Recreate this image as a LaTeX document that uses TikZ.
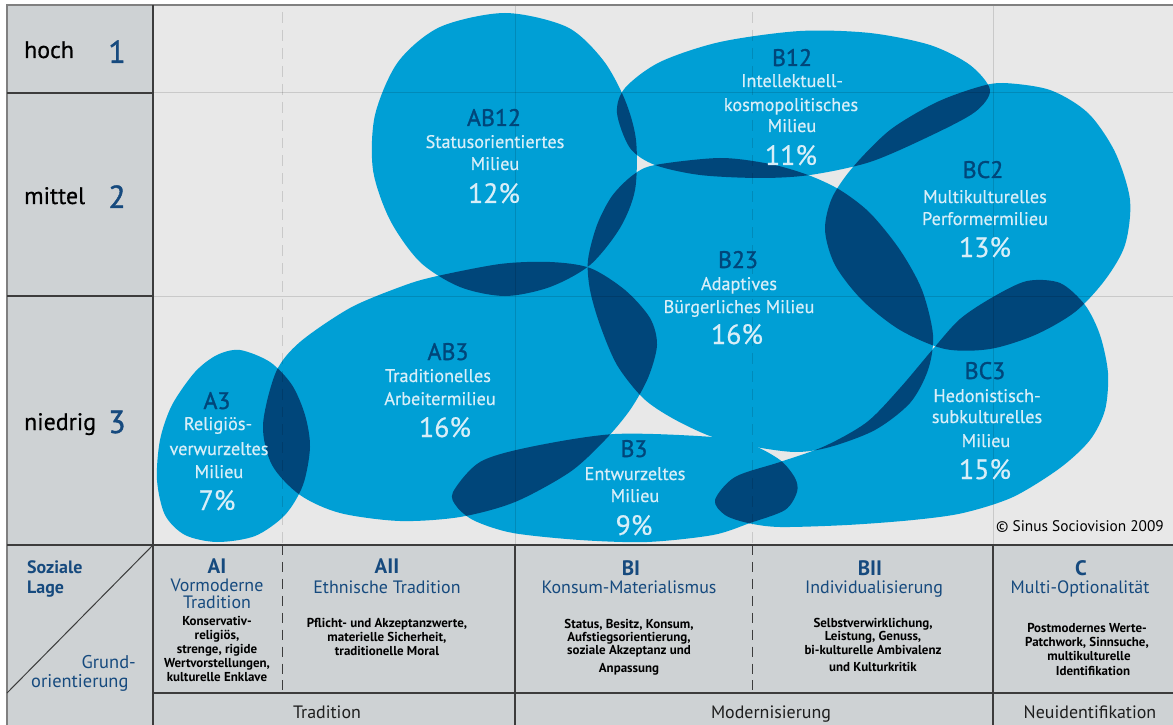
\documentclass[tikz,border=0pt]{standalone}
\usepackage{fontspec}
\setmainfont{PT Sans}
\newfontfamily\medfont[FakeBold=1.2]{PT Sans}
\newfontfamily\semifont[FakeBold=0.5]{PT Sans}
\definecolor{bgchart}{HTML}{E8E8E8}
\definecolor{bgpanel}{HTML}{CED2D4}
\definecolor{blobL}{HTML}{009FD5}
\definecolor{blobD}{HTML}{00467A}
\definecolor{txtL}{HTML}{D8EEF8}
\definecolor{navy}{HTML}{164A7E}
\definecolor{lineD}{HTML}{3C3C3C}
\definecolor{txtD}{HTML}{1E1E1E}
\def\blobAthree{plot[smooth cycle] coordinates {(240,350) (270,362) (292,385) (305,415) (310,447) (303,485) (285,515) (255,536) (217,542) (185,535) (165,515) (157,480) (160,440) (172,405) (195,372) (217,355)}}
\def\blobABthree{plot[smooth cycle] coordinates {(433,277) (500,264) (550,262) (590,268) (625,290) (650,318) (657,345) (648,378) (630,410) (605,440) (570,472) (515,502) (460,517) (400,521) (340,513) (300,495) (272,465) (263,425) (276,372) (300,342) (350,308) (400,287)}}
\def\blobABtwelve{plot[smooth cycle] coordinates {(505,13) (567,27) (603,60) (625,100) (636,140) (635,190) (620,228) (590,265) (550,287) (505,296) (460,287) (420,262) (390,220) (373,170) (375,115) (398,62) (440,27)}}
\def\blobBtwelve{plot[smooth cycle] coordinates {(617,113) (625,88) (660,62) (720,42) (800,31) (870,33) (930,45) (970,65) (990,90) (975,112) (930,136) (870,162) (810,175) (760,178) (700,175) (655,165) (630,148)}}
\def\blobBCtwo{plot[smooth cycle] coordinates {(1003,83) (1050,90) (1088,113) (1115,152) (1130,200) (1125,245) (1105,280) (1075,312) (1035,335) (990,349) (945,349) (900,330) (862,300) (835,265) (825,230) (832,198) (853,167) (890,130) (935,103) (975,88)}}
\def\blobBCthree{plot[smooth cycle] coordinates {(715,500) (735,477) (780,462) (825,446) (867,422) (900,388) (933,349) (960,319) (993,297) (1027,281) (1060,283) (1085,305) (1100,335) (1108,373) (1105,410) (1090,440) (1060,468) (1013,497) (963,513) (913,520) (847,525) (780,527) (748,523) (725,515)}}
\def\blobBtwothree{plot[smooth cycle] coordinates {(655,165) (720,158) (770,164) (808,175) (840,190) (870,213) (900,250) (922,290) (933,335) (928,370) (910,403) (875,430) (830,447) (795,452) (750,446) (710,436) (672,418) (643,398) (617,365) (600,325) (590,290) (588,260) (597,225) (612,196) (633,175)}}
\def\blobBthree{plot[smooth cycle] coordinates {(453,492) (480,462) (530,447) (615,434) (713,437) (750,444) (780,460) (795,478) (797,492) (785,510) (750,523) (713,535) (647,542) (580,540) (513,533) (475,521) (457,507)}}
\newcommand\lensfill[2]{\begin{scope}\clip #1;\fill[blobD] #2;\end{scope}}
\begin{document}
\begin{tikzpicture}[x=1bp,y=-1bp,
  lab/.style={text=blobD, font=\medfont\fontsize{24}{24}\selectfont, anchor=base, inner sep=0},
  nm/.style={text=txtL, font=\semifont\fontsize{18.3}{18.3}\selectfont, anchor=base, inner sep=0},
  pct/.style={text=txtL, font=\semifont\fontsize{28}{28}\selectfont, anchor=base, inner sep=0},
  rowlab/.style={text=black, font=\semifont\fontsize{24}{24}\selectfont, anchor=base west, inner sep=0},
  rownum/.style={text=navy, font=\medfont\fontsize{32}{32}\selectfont, anchor=base, inner sep=0},
  hdB/.style={text=navy, font=\bfseries\fontsize{21}{21}\selectfont, anchor=base, inner sep=0},
  hdR/.style={text=navy, font=\fontsize{18}{18}\selectfont, anchor=base, inner sep=0},
  sm/.style={text=black, font=\bfseries\fontsize{13}{13}\selectfont, anchor=base, inner sep=0},
  bt/.style={text=txtD, font=\fontsize{18}{18}\selectfont, anchor=base, inner sep=0},
  corner/.style={text=navy, font=\fontsize{18.5}{18.5}\selectfont, inner sep=0},
  gridline/.style={black, opacity=0.13, line width=1bp},
  griddash/.style={black, opacity=0.13, line width=1bp, dash pattern=on 11pt off 7pt},
  panelline/.style={lineD, line width=1.2bp},
  paneldash/.style={lineD, line width=1bp, dash pattern=on 10pt off 7pt}]
\useasboundingbox (0,0) rectangle (1173,725);
\fill[white] (0,0) rectangle (1173,725);
\fill[bgchart] (153,5) rectangle (1173,545);
\fill[bgpanel] (7,5) rectangle (153,725);
\fill[bgpanel] (153,545) rectangle (1173,725);
% blobs
\fill[blobL] \blobAthree;
\fill[blobL] \blobABthree;
\fill[blobL] \blobABtwelve;
\fill[blobL] \blobBtwelve;
\fill[blobL] \blobBCtwo;
\fill[blobL] \blobBCthree;
\fill[blobL] \blobBtwothree;
\fill[blobL] \blobBthree;
% overlaps
\lensfill{\blobAthree}{\blobABthree}
\lensfill{\blobABthree}{\blobABtwelve}
\lensfill{\blobABthree}{\blobBtwothree}
\lensfill{\blobABthree}{\blobBthree}
\lensfill{\blobABtwelve}{\blobBtwothree}
\lensfill{\blobABtwelve}{\blobBtwelve}
\lensfill{\blobBtwelve}{\blobBtwothree}
\lensfill{\blobBtwelve}{\blobBCtwo}
\lensfill{\blobBtwothree}{\blobBCtwo}
\lensfill{\blobBtwothree}{\blobBCthree}
\lensfill{\blobBCtwo}{\blobBCthree}
\lensfill{\blobBthree}{\blobBCthree}
% chart grid (over blobs, faint)
\draw[gridline] (153,93) -- (1173,93);
\draw[gridline] (153,296) -- (1173,296);
\draw[gridline] (515,5) -- (515,545);
\draw[gridline] (993,5) -- (993,545);
\draw[griddash] (282,12) -- (282,545);
\draw[griddash] (752,12) -- (752,545);
% frame and panel lines
\draw[gray, line width=1.2bp] (7,725) -- (7,5) -- (1173,5);
\draw[panelline] (153,5) -- (153,725);
\draw[panelline] (7,93) -- (153,93);
\draw[panelline] (7,296) -- (153,296);
\draw[panelline] (7,545) -- (1173,545);
\draw[panelline] (153,693) -- (1173,693);
\draw[panelline] (515,545) -- (515,725);
\draw[panelline] (993,545) -- (993,725);
\draw[paneldash] (282,545) -- (282,693);
\draw[paneldash] (752,545) -- (752,693);
\draw[lineD, line width=1bp] (7,693) -- (153,545);
% row labels
\node[rowlab] (hoch) at (24,58) {hoch};
\node[rownum] (n1) at (117,63) {1};
\node[rowlab] (mittel) at (24,204) {mittel};
\node[rownum] (n2) at (117,208) {2};
\node[rowlab] (niedrig) at (24,430) {niedrig};
\node[rownum] (n3) at (117,433) {3};
% blob texts
\node[lab] (ab12l) at (494,126) {AB12};
\node[nm] (ab12a) at (495,148) {Statusorientiertes};
\node[nm] (ab12b) at (495,170) {Milieu};
\node[pct] (ab12p) at (494,203) {12\%};
\node[lab] (b12l) at (792,66) {B12};
\node[nm] (b12a) at (792,87) {Intellektuell-};
\node[nm] (b12b) at (791,111) {kosmopolitisches};
\node[nm] (b12c) at (792,132) {Milieu};
\node[pct] (b12p) at (791,165) {11\%};
\node[lab] (bc2l) at (983,178) {BC2};
\node[nm] (bc2a) at (985,203) {Multikulturelles};
\node[nm] (bc2b) at (985,225) {Performermilieu};
\node[pct] (bc2p) at (985,257) {13\%};
\node[lab] (b23l) at (738,268) {B23};
\node[nm] (b23a) at (739,290) {Adaptives};
\node[nm] (b23b) at (739,313) {Bürgerliches Milieu};
\node[pct] (b23p) at (737,344) {16\%};
\node[lab] (ab3l) at (448,360) {AB3};
\node[nm] (ab3a) at (438,382) {Traditionelles};
\node[nm] (ab3b) at (440,405) {Arbeitermilieu};
\node[pct] (ab3p) at (445,437) {16\%};
\node[lab] (a3l) at (217,409) {A3};
\node[nm] (a3a) at (218,430) {Religiös-};
\node[nm] (a3b) at (219,455) {verwurzeltes};
\node[nm] (a3c) at (219,478) {Milieu};
\node[pct] (a3p) at (217,510) {7\%};
\node[lab] (b3l) at (634,457) {B3};
\node[nm] (b3a) at (635,480) {Entwurzeltes};
\node[nm] (b3b) at (635,502) {Milieu};
\node[pct] (b3p) at (634,535) {9\%};
\node[lab] (bc3l) at (985,379) {BC3};
\node[nm] (bc3a) at (987,402) {Hedonistisch-};
\node[nm] (bc3b) at (987,423) {subkulturelles};
\node[nm] (bc3c) at (986,447) {Milieu};
\node[pct] (bc3p) at (985,479) {15\%};
\node[text=black, font=\fontsize{15.4}{15.4}\selectfont, anchor=base, inner sep=0] (copy) at (1080,531) {© Sinus Sociovision 2009};
% bottom left cell
\node[text=navy, font=\bfseries\fontsize{18}{18}\selectfont, anchor=base west, inner sep=0] (soz) at (27,573) {Soziale};
\node[text=navy, font=\bfseries\fontsize{18}{18}\selectfont, anchor=base west, inner sep=0] (lage) at (27,593) {Lage};
\node[corner, anchor=base east] (grund) at (136,668) {Grund-};
\node[corner, anchor=base west] (orient) at (31,687) {orientierung};
% AI
\node[hdB] (ai) at (217,573) {AI};
\node[hdR] (ai1) at (217,591) {Vormoderne};
\node[hdR] (ai2) at (217,608) {Tradition};
\node[sm] (ai3) at (217,625) {Konservativ-};
\node[sm] (ai4) at (217,639) {religiös,};
\node[sm] (ai5) at (217,653) {strenge, rigide};
\node[sm] (ai6) at (217,667) {Wertvorstellungen,};
\node[sm] (ai7) at (217,681) {kulturelle Enklave};
% AII
\node[hdB] (aii) at (387,573) {AII};
\node[hdR] (aii1) at (387,593) {Ethnische Tradition};
\node[sm] (aii2) at (387,627) {Pflicht- und Akzeptanzwerte,};
\node[sm] (aii3) at (387,641) {materielle Sicherheit,};
\node[sm] (aii4) at (387,655) {traditionelle Moral};
% BI
\node[hdB] (bi) at (631,575) {BI};
\node[hdR] (bi1) at (629,593) {Konsum-Materialismus};
\node[sm] (bi2) at (629,628) {Status, Besitz, Konsum,};
\node[sm] (bi3) at (629,641) {Aufstiegsorientierung,};
\node[sm] (bi4) at (629,654) {soziale Akzeptanz und};
\node[sm] (bi5) at (629,672) {Anpassung};
% BII
\node[hdB] (bii) at (870,575) {BII};
\node[hdR] (bii1) at (874,593) {Individualisierung};
\node[sm] (bii2) at (873,627) {Selbstverwirklichung,};
\node[sm] (bii3) at (873,640) {Leistung, Genuss,};
\node[sm] (bii4) at (873,654) {bi-kulturelle Ambivalenz};
\node[sm] (bii5) at (873,671) {und Kulturkritik};
% C
\node[hdB] (c) at (1081,575) {C};
\node[hdR] (c1) at (1080,593) {Multi-Optionalität};
\node[sm] (c2) at (1087,632) {Postmodernes Werte-};
\node[sm] (c3) at (1087,646) {Patchwork, Sinnsuche,};
\node[sm] (c4) at (1089,660) {multikulturelle};
\node[sm] (c5) at (1093,675) {Identifikation};
% bottom row
\node[bt] (trad) at (327,718) {Tradition};
\node[bt] (mod) at (771,718) {Modernisierung};
\node[bt] (neu) at (1090,718) {Neuidentifikation};
\end{tikzpicture}
\end{document}
